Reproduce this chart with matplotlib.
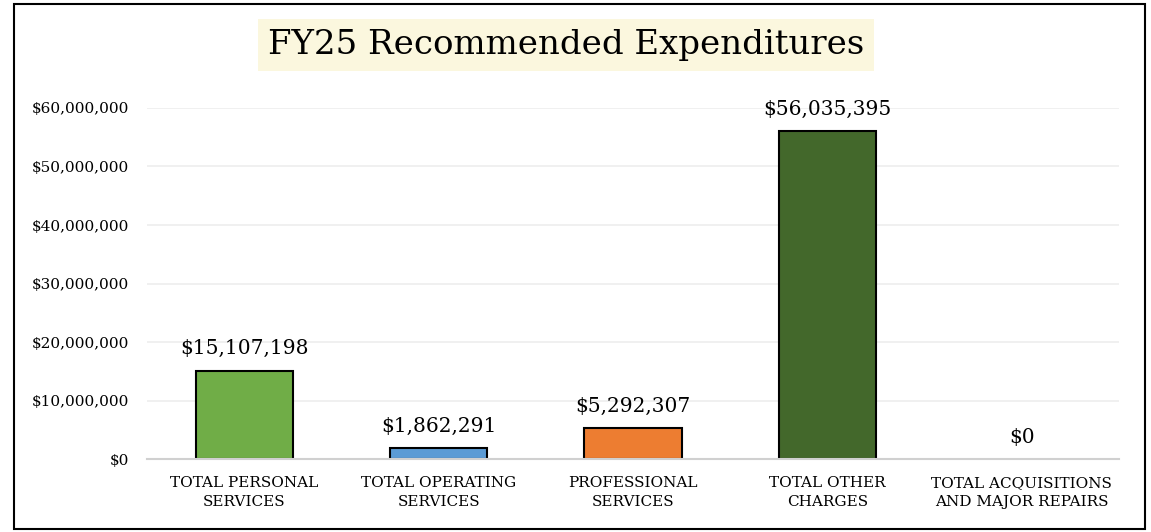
import matplotlib.pyplot as plt
from matplotlib.patches import Rectangle
from matplotlib.ticker import FuncFormatter
import numpy as np

plt.rcParams['font.family'] = 'DejaVu Serif'

categorias = ['TOTAL PERSONAL\nSERVICES', 'TOTAL OPERATING\nSERVICES', 'PROFESSIONAL\nSERVICES',
              'TOTAL OTHER\nCHARGES', 'TOTAL ACQUISITIONS\nAND MAJOR REPAIRS']
valores = [15107198, 1862291, 5292307, 56035395, 0]
cores = ['#70AD47', '#5B9BD5', '#ED7D31', '#43682B', '#A5A5A5']

fig = plt.figure(figsize=(11.51, 5.32), dpi=100)
ax = fig.add_axes([0.1277, 0.1372, 0.8445, 0.6598])

x = np.arange(len(categorias))
barras = ax.bar(x, valores, width=0.5, color=cores, edgecolor='black', linewidth=1.5, zorder=3)

ax.set_xlim(-0.5, len(categorias) - 0.5)
ax.set_ylim(0, 60000000)
ax.set_yticks(np.arange(0, 60000001, 10000000))
ax.yaxis.set_major_formatter(FuncFormatter(lambda v, p: f'${v:,.0f}'))
ax.set_xticks(x)
ax.set_xticklabels(categorias, fontsize=11, linespacing=1.45)
ax.tick_params(axis='y', labelsize=11, length=0, pad=13)
ax.tick_params(axis='x', length=0, pad=12)
ax.grid(axis='y', color='#EDEDED', linewidth=1.2, zorder=0)
for lado in ['top', 'right', 'left']:
    ax.spines[lado].set_visible(False)
ax.spines['bottom'].set_color('#D0D0D0')
ax.spines['bottom'].set_linewidth(1.5)
ax.spines['bottom'].set_zorder(4)

# rotulos acima das barras
for b in barras:
    h = b.get_height()
    if h == 0:
        b.set_linewidth(0)
    ax.annotate(f'${h:,.0f}', xy=(b.get_x() + b.get_width() / 2, h),
                xytext=(0, 9), textcoords='offset points',
                ha='center', va='bottom', fontsize=14.5)

fig.text(0.492, 0.915, 'FY25 Recommended Expenditures', ha='center', va='center', fontsize=24.5,
         bbox=dict(facecolor='#FBF7DE', edgecolor='none', pad=7))

fig.patches.append(Rectangle((0.012, 0.006), 0.983, 0.986, transform=fig.transFigure,
                             fill=False, edgecolor='black', linewidth=1.5))

fig.savefig('out.png', dpi=100)
